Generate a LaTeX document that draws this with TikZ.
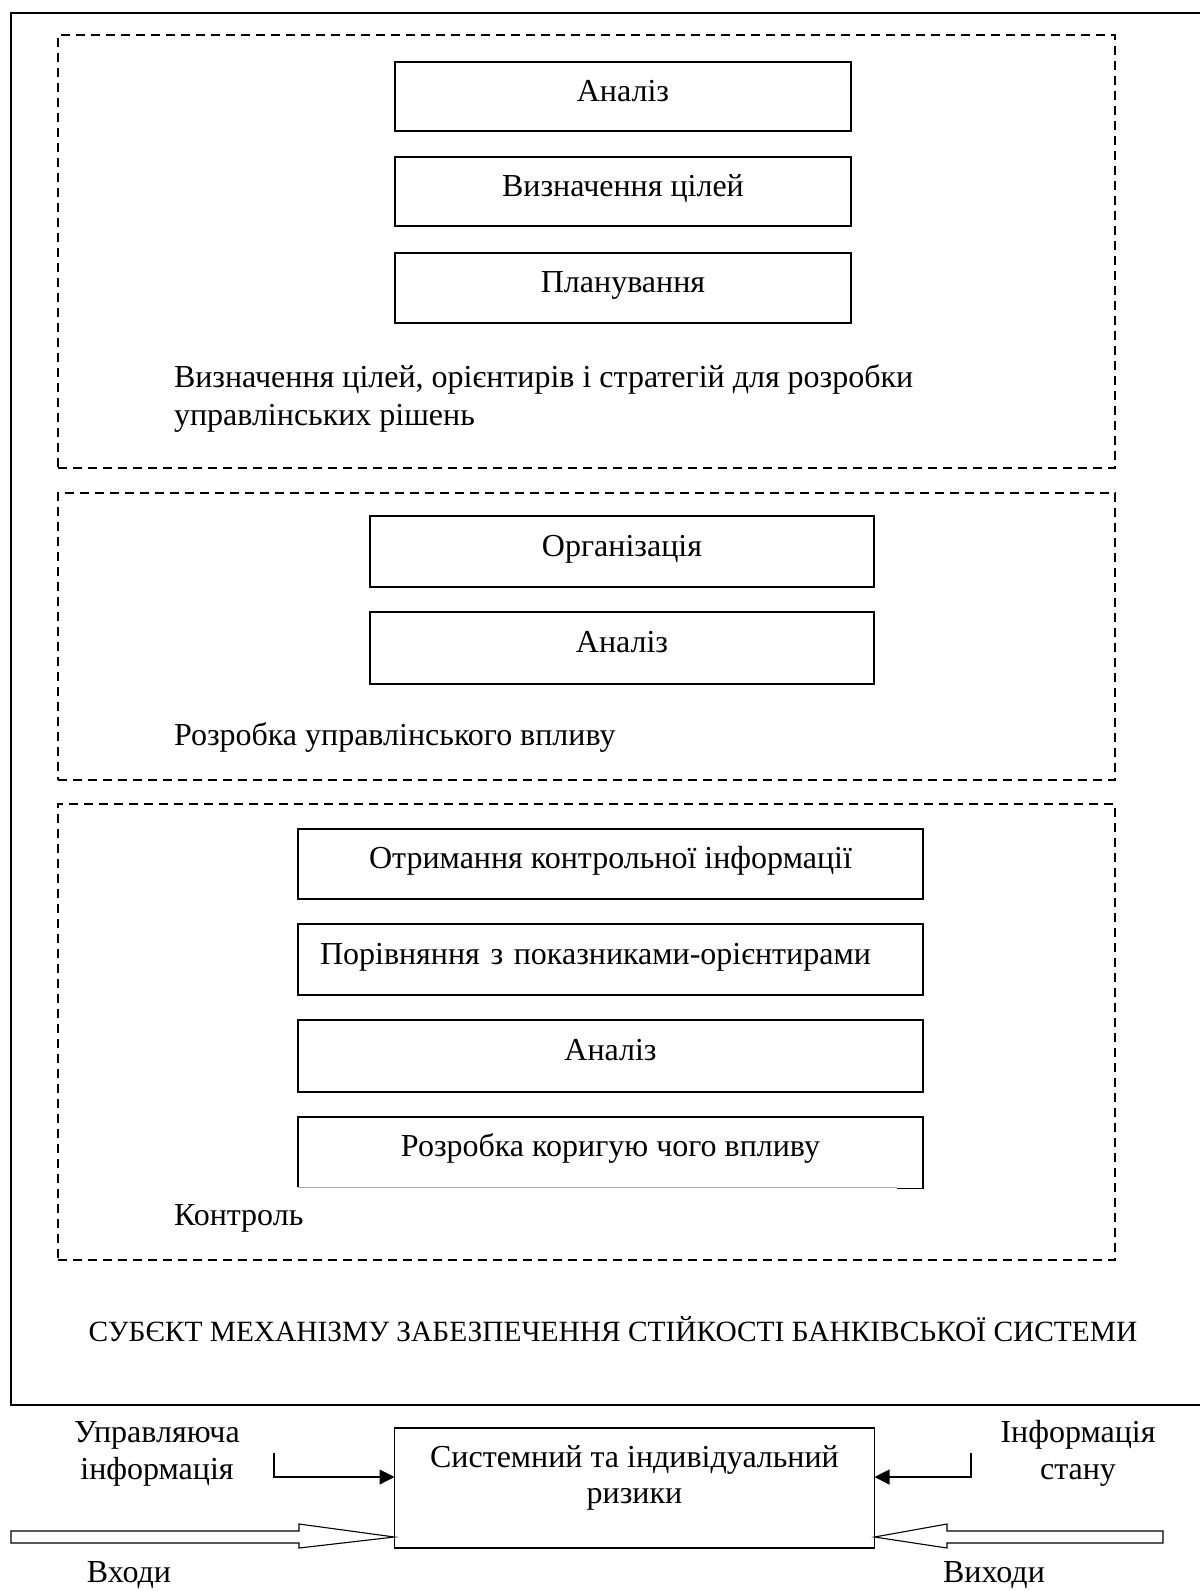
\documentclass[tikz,border=0pt]{standalone}
\usepackage{fontspec}
\setmainfont{Liberation Serif}
\usetikzlibrary{arrows.meta}
\begin{document}
\begin{tikzpicture}[x=0.5pt,y=-0.5pt,
  every node/.style={font=\fontsize{16pt}{19pt}\selectfont, inner sep=0pt, outer sep=0pt},
  frame/.style={line width=0.7pt},
  group/.style={draw, dash pattern=on 4.5pt off 3pt, line width=0.8pt, minimum width=528.5pt},
  stepbox/.style={draw, line width=0.55pt, text height=7pt, text depth=2.5pt},
  lbl/.style={text height=10pt, text depth=0.5pt},
  conn/.style={line width=0.55pt, -{Triangle[length=7.5pt,width=7.5pt]}},
  hollow/.style={draw, line width=0.55pt, fill=white},
]
\useasboundingbox (0,0) rectangle (1200,1591);

% outer frame
\draw[frame] (1200,13) -- (11,13) -- (11,1405) -- (1200,1405);

% groups
\node[group, minimum height=216.5pt] (g1) at (586.5,251.5) {};
\node[group, minimum height=143.5pt] (g2) at (586.5,636.5) {};
\node[group, minimum height=228pt] (g3) at (586.5,1032) {};

% group 1
\node[stepbox, minimum width=228pt, minimum height=34.5pt] (a1) at (623,96.5) {Аналіз};
\node[stepbox, minimum width=228pt, minimum height=34.5pt] (a2) at (623,191.5) {Визначення цілей};
\node[stepbox, minimum width=228pt, minimum height=35pt] (a3) at (623,288) {Планування};
\node[lbl, anchor=west] (p1a) at (174,378) {Визначення цілей, орієнтирів і стратегій для розробки};
\node[lbl, anchor=west] (p1b) at (174,416) {управлінських рішень};

% group 2
\node[stepbox, minimum width=252pt, minimum height=35.5pt] (b1) at (622,551.5) {Організація};
\node[stepbox, minimum width=252pt, minimum height=36pt] (b2) at (622,648) {Аналіз};
\node[lbl, anchor=west] (p2) at (174,736) {Розробка управлінського впливу};

% group 3
\node[stepbox, minimum width=312.5pt, minimum height=35pt] (c1) at (610.5,864) {Отримання контрольної інформації};
\node[stepbox, minimum width=312.5pt, minimum height=35.5pt, text width=290.5pt, align=left] (c2) at (610.5,959.5) {Порівняння з показниками-орієнтирами};
\node[stepbox, minimum width=312.5pt, minimum height=36pt] (c3) at (610.5,1056) {Аналіз};
\node[stepbox, draw=none, minimum width=312.5pt, minimum height=35pt] (c4) at (610.5,1152) {Розробка коригую чого впливу};
\draw[line width=0.55pt] (c4.south west) -- (c4.north west) -- (c4.north east) -- ([yshift=-0.6pt]c4.south east) -- ([xshift=-13pt,yshift=-0.6pt]c4.south east);
\draw[line width=0.4pt, gray!70] (c4.south west) -- ([xshift=-13pt]c4.south east);
\node[lbl, anchor=west] (p3) at (174,1216) {Контроль};

\node[lbl, font=\fontsize{14.7pt}{19pt}\selectfont] (subj) at (613,1332) {СУБЄКТ МЕХАНІЗМУ ЗАБЕЗПЕЧЕННЯ СТІЙКОСТІ БАНКІВСЬКОЇ СИСТЕМИ};

% bottom part
\node[draw, line width=0.55pt, minimum width=240pt, minimum height=60pt] (risk) at (634.5,1488) {};
\node[lbl] (risk1) at (634.5,1458) {Системний та індивідуальний};
\node[lbl] (risk2) at (634.5,1494) {ризики};
\node[lbl] (ui1) at (157,1433) {Управляюча};
\node[lbl] (ui2) at (157,1470) {інформація};
\node[lbl] (is1) at (1078,1433) {Інформація};
\node[lbl] (is2) at (1078,1470) {стану};
\node[lbl] (in) at (129,1573) {Входи};
\node[lbl] (out) at (994,1573) {Виходи};

\coordinate (uiS) at (274,1453);
\coordinate (isS) at (971,1453);
\draw[conn] (uiS) |- ([yshift=5.5pt]risk.west);
\draw[conn] (isS) |- ([yshift=5.5pt]risk.east);

% hollow arrows
\draw[hollow] (11,1531) -- (299,1531) -- (299,1524) -- ([yshift=-24.5pt]risk.west) -- (299,1548) -- (299,1543) -- (11,1543) -- cycle;
\draw[hollow] (1163,1531) -- (947,1531) -- (947,1524) -- ([yshift=-24.5pt]risk.east) -- (947,1548) -- (947,1543) -- (1163,1543) -- cycle;
\end{tikzpicture}
\end{document}
